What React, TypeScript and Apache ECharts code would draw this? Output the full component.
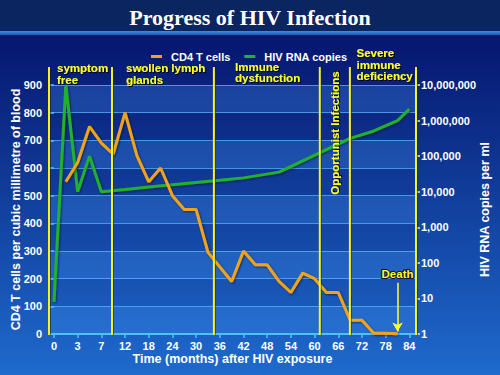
import React, { useEffect, useRef } from "react";
import * as echarts from "echarts";

// ---- data ----
const timeLabels = ["0", "3", "7", "12", "18", "24", "30", "36", "42", "48", "54", "60", "66", "72", "78", "84"];
const tickIndex = timeLabels.map((_, i) => i);

// CD4 T cells (left axis), x positions in tick-index units
const cd4Pos = [0.5, 1, 1.5, 2, 2.5, 3, 3.5, 4, 4.5, 5, 5.5, 6, 6.5, 7.5, 8, 8.5, 9, 9.5, 10, 10.5, 11, 11.5, 12, 12.5, 13, 13.5, 14, 14.5];
const cd4Values = [550, 620, 750, 690, 650, 800, 645, 550, 600, 500, 450, 450, 295, 190, 300, 250, 250, 190, 150, 220, 200, 150, 150, 50, 50, 3, 3, 1];

// HIV RNA copies (right log axis)
const hivPos = [0, 0.5, 1, 1.5, 2, 3, 4, 5, 6, 7, 8, 9.5, 12.5, 13.5, 14.5, 15];
const hivValues = [8, 10000000, 10000, 100000, 10000, 11600, 13500, 15700, 18200, 21100, 24500, 35500, 316000, 510000, 1000000, 2100000];

// phase boundaries (tick-index units), including plot edges
const phaseLines = [-0.21, 2.45, 6.75, 11.22, 12.49, 15.28];
const deathPos = 14.5;

const leftTicks = [0, 100, 200, 300, 400, 500, 600, 700, 800, 900];

const FONT = "'Liberation Sans', Arial, sans-serif";
const YELLOW = "#ffff2e";

export default function App() {
  const ref = useRef<HTMLDivElement>(null);
  useEffect(() => {
    document.body.style.margin = "0";
    const chart = echarts.init(ref.current!, null, { renderer: "svg" });
    const yMax = 900;
    const labelStyle = {
      fill: YELLOW,
      font: `bold 11.5px ${FONT}`,
      lineHeight: 11.5,
      textShadowColor: "rgba(0,0,0,0.9)",
      textShadowOffsetX: 1,
      textShadowOffsetY: 1,
      textShadowBlur: 1,
    };
    const option: any = {
      animation: false,
      backgroundColor: new echarts.graphic.LinearGradient(0, 0, 0, 1, [
        { offset: 0, color: "#0a1d6a" },
        { offset: 0.12, color: "#061871" },
        { offset: 1, color: "#1e6acd" },
      ]),
      title: {
        text: "Progress of HIV Infection",
        left: "center",
        top: 1,
        textStyle: { color: "#ffffff", fontFamily: "'Liberation Serif', 'Times New Roman', serif", fontWeight: "bold", fontSize: 22 },
      },
      graphic: [
        { type: "rect", z: -1, shape: { x: 0, y: 0, width: 500, height: 31 }, style: { fill: "#0a2560" } },
        {
          type: "rect",
          z: -1,
          shape: { x: 0, y: 31, width: 500, height: 4 },
          style: {
            fill: new echarts.graphic.LinearGradient(0, 0, 0, 1, [
              { offset: 0, color: "#3d8fe0" },
              { offset: 1, color: "#1b5bb8" },
            ]),
          },
        },
        { type: "text", z: 10, x: 57, y: 62.5, style: { ...labelStyle, text: "symptom\nfree" } },
        { type: "text", z: 10, x: 126, y: 62.5, style: { ...labelStyle, text: "swollen lymph\nglands" } },
        { type: "text", z: 10, x: 235, y: 61, style: { ...labelStyle, text: "Immune\ndysfunction" } },
        { type: "text", z: 10, x: 356.5, y: 47.5, style: { ...labelStyle, text: "Severe\nimmune\ndeficiency" } },
        {
          type: "text",
          z: 10,
          x: 335,
          y: 133,
          rotation: Math.PI / 2,
          style: { ...labelStyle, text: "Opportunist Infections", align: "center", verticalAlign: "middle" },
        },
      ],
      legend: {
        data: ["CD4 T cells", "HIV RNA copies"],
        left: 151,
        top: 51,
        padding: 0,
        itemWidth: 11,
        itemHeight: 3,
        itemGap: 14,
        icon: "rect",
        textStyle: { color: "#ffffff", fontFamily: FONT, fontWeight: "bold", fontSize: 11, padding: [0, 0, 0, 4] },
      },
      grid: { left: 49, right: 84, top: 85, bottom: 41, outerBoundsMode: "none", containLabel: false },
      xAxis: {
        type: "value",
        min: -0.21,
        max: 15.28,
        name: "Time (months) after HIV exposure",
        nameLocation: "middle",
        nameGap: 18,
        nameMoveOverlap: false,
        nameTextStyle: { color: "#ffffff", fontFamily: FONT, fontWeight: "bold", fontSize: 12.5 },
        axisLine: { show: true, lineStyle: { color: "#4fc2f5", width: 2 } },
        axisTick: { show: true, customValues: tickIndex, length: 4, lineStyle: { color: "#4fc2f5", width: 1.5 } },
        axisLabel: {
          customValues: tickIndex,
          formatter: (v: number) => timeLabels[Math.round(v)] ?? "",
          color: "#ffffff",
          fontFamily: FONT,
          fontWeight: "bold",
          fontSize: 11,
          margin: 6,
        },
        splitLine: { show: false },
      },
      yAxis: [
        {
          type: "value",
          min: 0,
          max: yMax,
          interval: 50,
          name: "CD4 T cells per cubic millimetre of blood",
          nameLocation: "middle",
          nameGap: 27,
          nameRotate: 90,
          nameMoveOverlap: false,
          nameTextStyle: { color: "#ffffff", fontFamily: FONT, fontWeight: "bold", fontSize: 12.5 },
          axisLine: { show: false },
          axisTick: { show: true, customValues: leftTicks, length: 4, lineStyle: { color: "#4fc2f5", width: 1.5 } },
          axisLabel: {
            formatter: (v: number) => (v % 100 === 0 ? String(v) : ""),
            color: "#ffffff",
            fontFamily: FONT,
            fontWeight: "bold",
            fontSize: 11,
            margin: 7,
          },
          splitLine: { show: true, lineStyle: { color: "rgba(90,180,250,0.75)", width: 1 } },
          splitArea: { show: true, areaStyle: { color: ["rgba(70,150,245,0.28)", "rgba(0,0,0,0)"] } },
        },
        {
          type: "log",
          logBase: 10,
          min: 1,
          max: 10000000,
          splitNumber: 7,
          name: "HIV RNA copies per ml",
          nameLocation: "middle",
          nameGap: 62,
          nameRotate: 90,
          nameMoveOverlap: false,
          nameTextStyle: { color: "#ffffff", fontFamily: FONT, fontWeight: "bold", fontSize: 12.5 },
          axisLine: { show: false },
          axisTick: { show: true, length: 4, lineStyle: { color: "#dfe8ff", width: 1.5 } },
          axisLabel: {
            formatter: (v: number) => Math.round(v).toLocaleString("en-US"),
            color: "#ffffff",
            fontFamily: FONT,
            fontWeight: "bold",
            fontSize: 11,
            margin: 5,
          },
          splitLine: { show: false },
          splitArea: { show: false },
        },
      ],
      series: [
        {
          name: "HIV RNA copies",
          type: "line",
          yAxisIndex: 1,
          data: hivPos.map((x, i) => [x, hivValues[i]]),
          showSymbol: false,
          symbol: "none",
          clip: false,
          color: "#22b12e",
          lineStyle: { color: "#22b12e", width: 3, shadowColor: "rgba(0,0,0,0.5)", shadowBlur: 2, shadowOffsetX: 1, shadowOffsetY: 1 },
          z: 3,
        },
        {
          name: "CD4 T cells",
          type: "line",
          yAxisIndex: 0,
          data: cd4Pos.map((x, i) => [x, cd4Values[i]]),
          showSymbol: false,
          symbol: "none",
          clip: false,
          color: "#f2a31c",
          lineStyle: { color: "#f2a31c", width: 3, shadowColor: "rgba(0,0,0,0.5)", shadowBlur: 2, shadowOffsetX: 1, shadowOffsetY: 1 },
          z: 4,
          markLine: {
            silent: true,
            symbol: ["none", "arrow"],
            symbolSize: [8, 9],
            lineStyle: { color: YELLOW, width: 1.5, type: "solid" },
            label: {
              show: true,
              position: "start",
              formatter: "Death",
              color: YELLOW,
              fontFamily: FONT,
              fontWeight: "bold",
              fontSize: 11.5,
              textBorderColor: "#101030",
              textBorderWidth: 2,
              distance: 3,
            },
            data: [[{ coord: [deathPos, 185] }, { coord: [deathPos, 9] }]],
          },
        },
        {
          type: "custom",
          xAxisIndex: 0,
          yAxisIndex: 0,
          clip: false,
          silent: true,
          z: 6,
          data: phaseLines.map((x) => [x, 0]),
          encode: { x: 0, y: 1 },
          renderItem: (_params: any, api: any) => {
            const x = api.value(0);
            const p0 = api.coord([x, 0]);
            const p1 = api.coord([x, yMax]);
            const shape = { x1: p0[0], y1: p0[1] + 1, x2: p1[0], y2: p1[1] - 18 };
            return {
              type: "group",
              children: [
                {
                  type: "line",
                  shape: { x1: shape.x1 + 1.2, y1: shape.y1, x2: shape.x2 + 1.2, y2: shape.y2 },
                  style: { stroke: "rgba(20,20,40,0.55)", lineWidth: 1.5 },
                },
                { type: "line", shape, style: { stroke: "#f3f31e", lineWidth: 2 } },
              ],
            };
          },
        },
      ],
    };
    chart.setOption(option);
    return () => chart.dispose();
  }, []);
  return <div ref={ref} style={{ width: 500, height: 375 }} />;
}
